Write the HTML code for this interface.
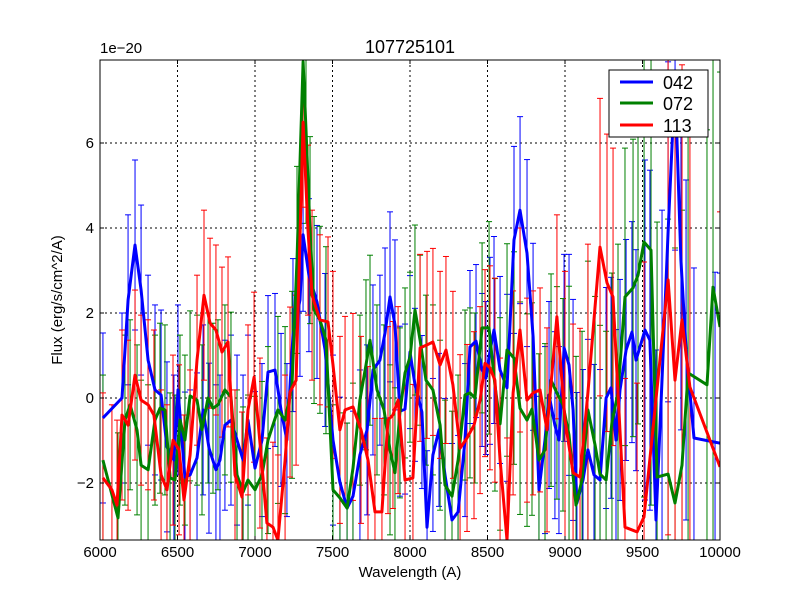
<!DOCTYPE html>
<html><head><meta charset="utf-8"><style>
html,body{margin:0;padding:0;background:#fff;width:800px;height:600px;overflow:hidden;}
svg{display:block;font-family:"Liberation Sans","DejaVu Sans",sans-serif;}
</style></head><body>
<svg id="chart" width="800" height="600" xmlns="http://www.w3.org/2000/svg">
<defs><clipPath id="pc"><rect x="100" y="60" width="620" height="480"/></clipPath></defs>
<rect x="0" y="0" width="800" height="600" fill="#fff"/>
<g id="grid"></g>
<g id="series" clip-path="url(#pc)"></g>
<rect x="100" y="60" width="620" height="480" fill="none" stroke="#000" stroke-width="1"/>
<g id="ticks"></g>
<text x="410" y="53" font-size="18" text-anchor="middle">107725101</text>
<text x="100" y="53" font-size="15">1e−20</text>
<text x="410" y="577" font-size="15" text-anchor="middle">Wavelength (A)</text>
<text x="62" y="300" font-size="15" text-anchor="middle" transform="rotate(-90 62 300)">Flux (erg/s/cm^2/A)</text>
<g>
<rect x="609" y="70" width="99" height="67" fill="#fff" stroke="#000" stroke-width="1"/>
<g><line x1="620" y1="82" x2="653" y2="82" stroke="#0000ff" stroke-width="3"/><text x="663" y="89" font-size="18">042</text></g>
<g><line x1="620" y1="103" x2="653" y2="103" stroke="#008000" stroke-width="3"/><text x="663" y="110" font-size="18">072</text></g>
<g><line x1="620" y1="125" x2="653" y2="125" stroke="#ff0000" stroke-width="3"/><text x="663" y="132" font-size="18">113</text></g>
</g>
</svg>
<script>
const xTicks = [6000,6500,7000,7500,8000,8500,9000,9500,10000];
const yTicks = [-2,0,2,4,6];
const errBins = [6000,6500,7000,7500,8000,8500,9000,9500];
const wave042 = [6019,6142,6181,6226,6265,6310,6355,6394,6432,6477,6503,6548,6581,6626,6665,6703,6748,6774,6806,6845,6884,6923,6955,7000,7045,7084,7129,7168,7206,7245,7290,7310,7348,7400,7452,7503,7548,7594,7632,7677,7723,7761,7806,7839,7871,7903,7935,7968,8000,8032,8077,8110,8148,8187,8226,8271,8310,8355,8387,8426,8465,8490,8516,8542,8581,8626,8671,8710,8755,8794,8832,8871,8897,8935,8961,8994,9026,9052,9077,9116,9148,9187,9226,9265,9297,9329,9355,9394,9432,9458,9516,9548,9587,9626,9665,9710,9748,9781,9832,9968,10000];
const flux042 = [-0.47,0,2.31,3.6,2.54,0.89,0.19,0.07,-1.15,-1.46,0.19,-1.86,-1.81,-1.41,-0.28,-1.18,-1.69,-1.46,-0.64,-0.52,-0.99,-1.46,-0.52,-1.65,-0.99,0.61,0.66,-0.28,-0.99,1.48,2.31,3.84,2.89,2.26,1.13,-0.99,-1.98,-2.59,-2.31,-1.34,-0.75,0.66,0.89,1.53,2.38,1.72,-0.31,-0.26,1.08,0.31,-0.33,-3.04,-1.34,-0.75,-1.81,-2.87,-2.68,-0.99,1.2,1.34,0.66,0.47,1.11,1.6,0.66,0.24,3.72,4.42,3.41,1.44,-2.16,-0.99,0.07,-0.64,-0.99,1.18,0.78,-0.28,-2.47,-1.93,-1.22,-1.81,-1.93,0,0.24,-0.99,0.19,1.13,1.55,0.89,1.6,1.36,-2.87,0.42,3.91,7.48,3.25,1.13,-0.94,-1.04,-1.06];
const err042 = [2.0,2.0,1.8,2.0,1.8,2.2,2.6,4.0];
const wave072 = [6019,6116,6161,6194,6239,6265,6310,6355,6387,6419,6452,6484,6516,6548,6581,6626,6658,6697,6729,6761,6806,6845,6884,6923,6955,7000,7045,7084,7148,7194,7239,7271,7310,7329,7355,7381,7419,7458,7503,7548,7594,7632,7677,7716,7742,7787,7832,7871,7903,7935,7968,8000,8032,8065,8103,8148,8194,8226,8271,8310,8355,8387,8419,8465,8510,8548,8581,8626,8671,8710,8755,8787,8832,8871,8910,8948,8987,9026,9071,9110,9148,9194,9226,9265,9303,9342,9387,9439,9471,9510,9555,9594,9665,9710,9755,9794,9916,9955,10000];
const flux072 = [-1.46,-2.82,-0.52,-0.16,-0.75,-1.58,-1.69,-0.52,-0.24,-0.28,-1.88,-1.93,-0.52,-0.99,0.05,-0.05,-0.75,0,-0.24,-0.16,0.19,0.02,-1.81,-2.21,-1.93,-2.16,-1.81,-0.99,-0.28,-0.52,0.31,3.25,7.91,6.31,3.95,2.07,1.84,1.36,-2.16,-2.35,-2.59,-1.65,-0.05,0.78,1.36,0.19,-0.28,-1.22,-1.76,-0.35,0.59,0.96,2.07,1.36,0.42,0.19,-0.64,-2.05,-2.31,-1.46,0.07,0.12,0,1.65,1.65,0.31,-0.61,1.13,0.94,-0.24,-0.52,-0.26,-1.46,-1.22,0.42,0.12,-0.16,-0.87,-2.52,-1.93,-0.28,-1.11,-1.79,-1.93,-0.56,0.12,2.38,2.59,2.89,3.67,3.48,-1.86,-1.79,-2.47,-1.58,0.59,0.31,2.61,1.67];
const err072 = [2.0,2.0,2.2,2.0,2.0,2.5,3.5,6.0];
const wave113 = [6019,6077,6110,6142,6181,6226,6265,6310,6348,6394,6432,6471,6510,6542,6581,6626,6671,6710,6748,6787,6826,6871,6916,6955,6994,7032,7077,7116,7148,7194,7226,7265,7310,7342,7368,7419,7471,7503,7548,7581,7632,7684,7729,7774,7819,7858,7890,7923,7968,8019,8065,8110,8148,8194,8232,8277,8323,8368,8413,8452,8484,8516,8548,8581,8626,8665,8710,8755,8794,8839,8884,8948,9000,9052,9097,9148,9226,9271,9310,9387,9465,9510,9665,9710,9755,9806,10000];
const flux113 = [-1.88,-2.16,-2.52,-0.4,-0.64,0.54,-0.05,-0.16,-0.4,-1.81,-2.16,-0.99,-1.22,-2.4,-1.34,0.89,2.42,1.76,1.6,1.08,1.32,-1.81,-2.33,-0.28,0.49,-1.06,-2.94,-3.04,-3.34,-1.46,0.14,0.42,6.49,3.95,2.42,1.84,1.79,0.78,-0.75,-0.28,-0.21,-0.75,-1.46,-2.68,-2.68,-0.52,-0.4,-0.05,-1.93,-1.88,1.18,1.25,1.32,0.78,1.13,0.31,-1.18,-0.94,-0.64,-0.05,0.82,0.71,0.42,-1.46,-3.34,0.12,1.6,-0.05,0.12,0.19,-0.75,1.91,-0.52,-1.76,-1.86,0.12,3.55,2.71,2.38,-3.04,-3.15,-2.8,2.78,0.42,1.84,0.26,-1.62];
const err113 = [2.0,2.0,2.0,2.2,2.2,2.4,3.5,6.0];

const X0=100,X1=720,Y0=60,Y1=540;
const xMin=6000,xMax=10000,yMin=-3.341,yMax=7.953;
function xs(v){return X0+(v-xMin)/(xMax-xMin)*(X1-X0);}
function ys(v){return Y1-(v-yMin)/(yMax-yMin)*(Y1-Y0);}
function clampY(y){return Math.max(Y0,Math.min(Y1,y));}
const NS='http://www.w3.org/2000/svg';
function mk(tag,attrs,parent){const e=document.createElementNS(NS,tag);for(const k in attrs)e.setAttribute(k,attrs[k]);parent.appendChild(e);return e;}
const grid=document.getElementById('grid'),ticks=document.getElementById('ticks'),series=document.getElementById('series');
xTicks.forEach(t=>{
  const x=xs(t);
  if(t>xMin&&t<xMax){const g=mk('line',{x1:x,y1:Y0,x2:x,y2:Y1,stroke:'#000','stroke-width':1,'stroke-dasharray':'2,3'},grid);
  
  }
  mk('line',{x1:x,y1:Y1,x2:x,y2:Y1-4,stroke:'#000'},ticks);
  mk('line',{x1:x,y1:Y0,x2:x,y2:Y0+4,stroke:'#000'},ticks);
  const l=mk('text',{x:x,y:Y1+17,'font-size':15,'text-anchor':'middle'},ticks);
  l.textContent=t;
  
  
});
yTicks.forEach(t=>{
  const y=ys(t);
  const g=mk('line',{x1:X0,y1:y,x2:X1,y2:y,stroke:'#000','stroke-width':1,'stroke-dasharray':'2,3'},grid);
  
  
  mk('line',{x1:X0,y1:y,x2:X0+4,y2:y,stroke:'#000'},ticks);
  mk('line',{x1:X1,y1:y,x2:X1-4,y2:y,stroke:'#000'},ticks);
  const l=mk('text',{x:X0-6,y:y+5,'font-size':15,'text-anchor':'end'},ticks);
  l.textContent=(t<0?'\u2212'+(-t):t);
  
  
});
function errFor(errs,w){let i=0;for(let k=0;k<errBins.length;k++)if(w>=errBins[k])i=k;return errs[i];}
function draw(wave,flux,errs,color,name){
  const g=mk('g',{},series);
  
  
  wave.forEach((w,i)=>{
    const e=errFor(errs,w);const x=xs(w),ya=ys(flux[i]+e),yb=ys(flux[i]-e);
    const b=mk('line',{x1:x,y1:clampY(ya),x2:x,y2:clampY(yb),stroke:color,'stroke-width':1},g);
    
    
    if(ya>=Y0) mk('line',{x1:x-3,y1:ya,x2:x+3,y2:ya,stroke:color,'stroke-width':1},g);
    if(yb<=Y1) mk('line',{x1:x-3,y1:yb,x2:x+3,y2:yb,stroke:color,'stroke-width':1},g);
  });
  return g;
}
function line(wave,flux,color,name){
  const pts=wave.map((w,i)=>xs(w).toFixed(1)+','+ys(flux[i]).toFixed(1)).join(' ');
  const p=mk('polyline',{points:pts,fill:'none',stroke:color,'stroke-width':3,'stroke-linejoin':'round'},series);
  
  
}
draw(wave042,flux042,err042,'#0000ff','042');
draw(wave072,flux072,err072,'#008000','072');
draw(wave113,flux113,err113,'#ff0000','113');
line(wave042,flux042,'#0000ff','042');
line(wave072,flux072,'#008000','072');
line(wave113,flux113,'#ff0000','113');
</script>
</body></html>
